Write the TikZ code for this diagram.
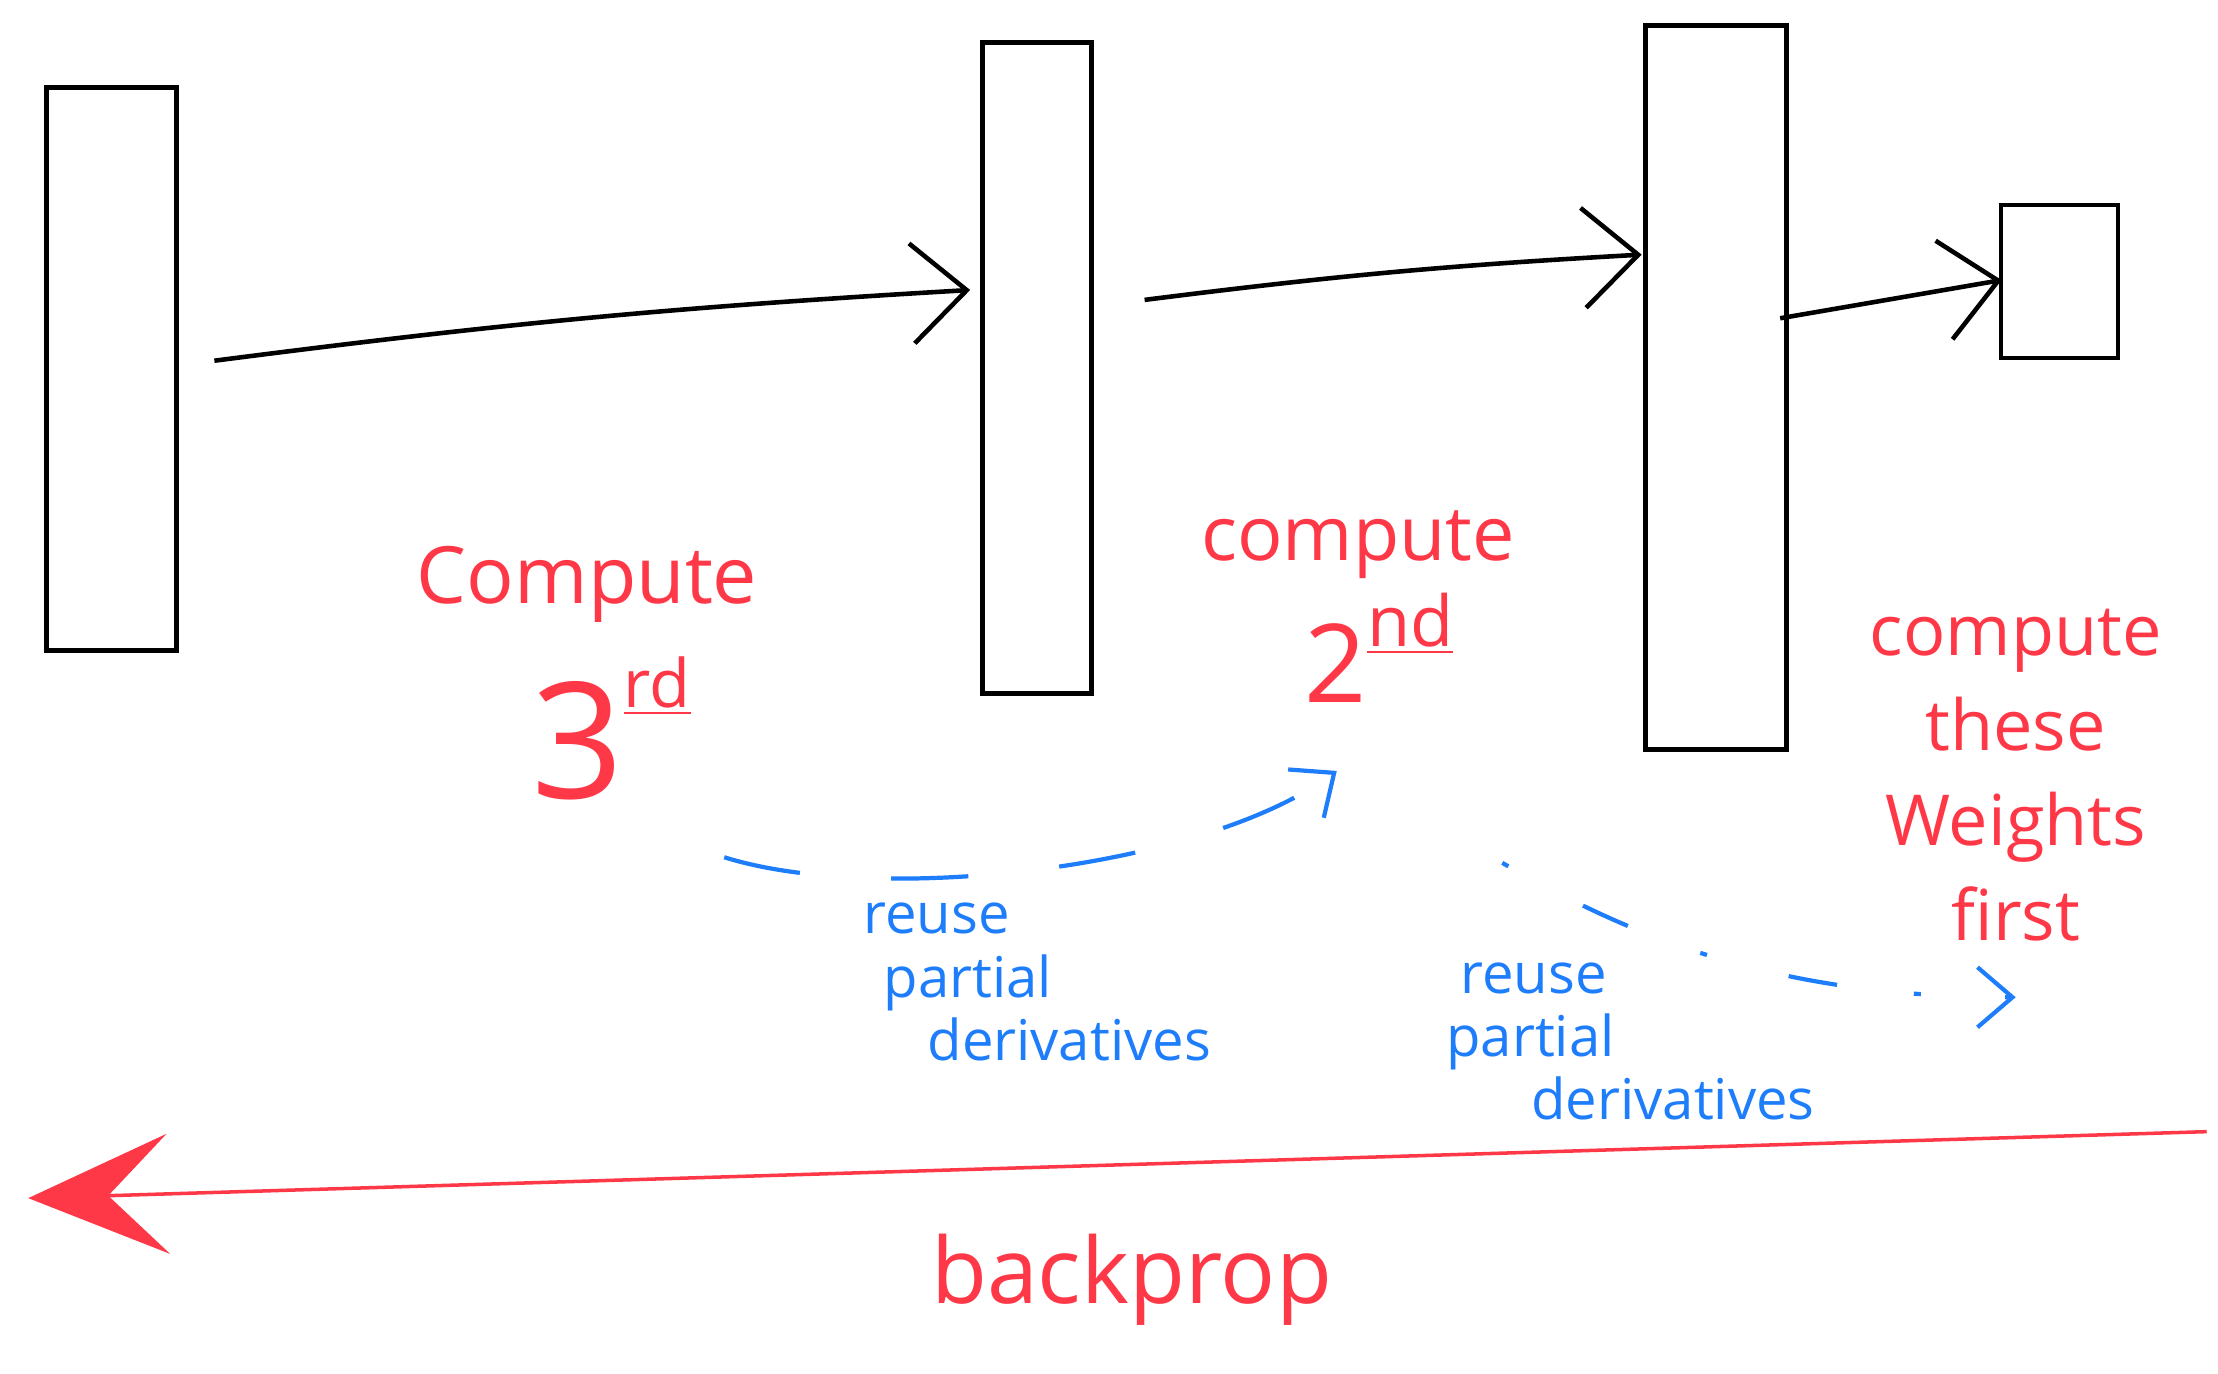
\documentclass[tikz,border=0pt]{standalone}
\usepackage{fontspec}
\setmainfont{Open Sans}
\usetikzlibrary{arrows.meta,calc}
\definecolor{ink}{RGB}{255,56,72}
\definecolor{pen}{RGB}{30,125,250}

\begin{document}
\begin{tikzpicture}[x=0.014145cm,y=-0.014145cm,
  layer/.style={draw,line width=1.3pt,inner sep=0pt},
  fwd/.style={line width=1.3pt,-{Straight Barb[length=0.55cm,width=1cm]}},
  note/.style={text=ink,inner sep=0pt},
  hint/.style={text=pen,inner sep=0pt,align=left,anchor=north west,
    font=\fontsize{16}{18}\selectfont},
  reuse/.style={pen,line width=1.2pt,-{Straight Barb[length=0.35cm,width=0.6cm]}}]
\useasboundingbox (0,0) rectangle (1568,971);

% layers
\node[layer,minimum width=1.30cm,minimum height=5.63cm] (l1) at (79,261) {};
\node[layer,minimum width=1.09cm,minimum height=6.51cm] (l2) at (733,260) {};
\node[layer,minimum width=1.41cm,minimum height=7.24cm] (l3) at (1213,274) {};
\node[layer,minimum width=1.17cm,minimum height=1.53cm] (l4) at (1456,199) {};

% forward pass
\draw[fwd] ($(l1.east)+(25,-6)$) to[bend left=2] ($(l2.west)+(-7,-55)$);
\draw[fwd] ($(l2.east)+(36,-48)$) to[bend left=2] ($(l3.west)+(-1,-94)$);
\draw[fwd] ($(l3.east)+(-6,-49)$) -- ($(l4.west)+(2,-1)$);

% order of computation
\node[note,font=\fontsize{22.5}{26}\selectfont] (c3) at (415,413) {Compute};
\node[note,font=\fontsize{46}{50}\selectfont] (n3) at (432,515)
  {3\raisebox{26pt}{\fontsize{19}{20}\selectfont\underline{rd}}};
\node[note,font=\fontsize{21.5}{26}\selectfont] (c2) at (960,385) {compute};
\node[note,font=\fontsize{31}{34}\selectfont] (n2) at (975,458)
  {2\raisebox{16pt}{\fontsize{20}{20}\selectfont\underline{nd}}};
\node[note,align=center,font=\fontsize{20}{27}\selectfont] (c1) at (1425,548)
  {compute\\these\\Weights\\first};

% reuse
\coordinate (r1s) at (512,606);
\coordinate (r1e) at (945,545);
\coordinate (r2s) at (1062,610);
\coordinate (r2e) at (1425,705);
\draw[reuse,dash pattern=on 22pt off 26pt] (r1s) .. controls (620,640) and (850,615) .. (r1e);
\draw[reuse,dash pattern=on 2pt off 24pt on 14pt off 22pt] (r2s) .. controls (1150,660) and (1250,705) .. (r2e);
\node[hint] (p1) at (610,638) {reuse\\\hspace*{0.2cm}partial\\\hspace*{0.64cm}derivatives};
\node[hint] (p2) at (1022,680) {\hspace*{0.14cm}reuse\\partial\\\hspace*{0.85cm}derivatives};

% backprop
\coordinate (bs) at (1560,800);
\coordinate (be) at (20,847);
\draw[ink,line width=1pt,-{Stealth[length=1.4cm,width=1.2cm,inset=0.6cm]}] (bs) -- (be);
\node[note,font=\fontsize{26}{30}\selectfont] (bp) at (800,905) {backprop};
\end{tikzpicture}
\end{document}
